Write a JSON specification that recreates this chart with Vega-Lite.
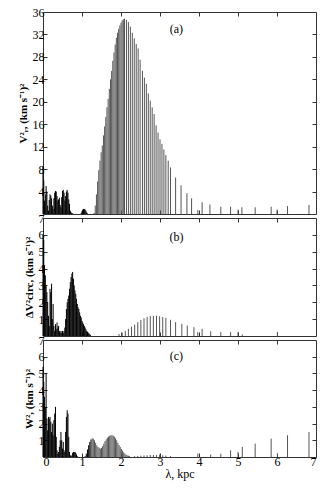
{
  "$schema": "https://vega.github.io/schema/vega-lite/v6.json",
  "padding": {"left": 16, "top": 5, "right": 8, "bottom": 2},
  "background": "white",
  "bounds": "flush",
  "spacing": 4,
  "config": {
    "font": "Liberation Serif",
    "view": {"stroke": "#333", "strokeWidth": 1},
    "axis": {
      "grid": false, "domain": false, "tickColor": "#333", "tickSize": -4,
      "labelColor": "black", "labelFont": "Liberation Serif", "labelFontSize": 12,
      "titleFont": "Liberation Serif", "titleFontSize": 11, "titleFontWeight": "bold",
      "titleColor": "black", "labelPadding": 3, "minExtent": 0, "offset": 0
    }
  },
  "datasets": {
    "a": [
      {"lam":0.00,"v":8.5},{"lam":0.02,"v":6.0},{"lam":0.04,"v":2.4},{"lam":0.06,"v":3.5},{"lam":0.08,"v":5.0},
      {"lam":0.10,"v":4.0},{"lam":0.12,"v":1.5},{"lam":0.14,"v":0.6},{"lam":0.16,"v":2.5},{"lam":0.18,"v":3.5},
      {"lam":0.20,"v":3.3},{"lam":0.22,"v":2.8},{"lam":0.24,"v":1.5},{"lam":0.26,"v":0.9},{"lam":0.28,"v":2.8},
      {"lam":0.30,"v":3.8},{"lam":0.32,"v":4.1},{"lam":0.34,"v":4.0},{"lam":0.36,"v":3.2},{"lam":0.38,"v":2.4},
      {"lam":0.40,"v":2.6},{"lam":0.42,"v":2.9},{"lam":0.44,"v":1.6},{"lam":0.46,"v":1.2},{"lam":0.48,"v":3.0},
      {"lam":0.50,"v":4.1},{"lam":0.52,"v":4.3},{"lam":0.54,"v":3.8},{"lam":0.56,"v":2.4},{"lam":0.58,"v":3.2},
      {"lam":0.60,"v":4.0},{"lam":0.62,"v":4.3},{"lam":0.64,"v":3.8},{"lam":0.66,"v":2.6},{"lam":0.68,"v":1.8},
      {"lam":0.70,"v":0.6},{"lam":0.72,"v":0.3},{"lam":0.74,"v":0.2},{"lam":0.76,"v":0.1},
      {"lam":0.98,"v":0.2},{"lam":1.00,"v":0.5},{"lam":1.02,"v":0.8},{"lam":1.04,"v":0.9},{"lam":1.06,"v":0.9},
      {"lam":1.08,"v":0.8},{"lam":1.10,"v":0.6},{"lam":1.12,"v":0.3},{"lam":1.14,"v":0.1},
      {"lam":1.31,"v":0.2},{"lam":1.34,"v":1.5},{"lam":1.37,"v":3.5},{"lam":1.40,"v":5.8},{"lam":1.43,"v":7.8},
      {"lam":1.46,"v":9.5},{"lam":1.49,"v":11.0},{"lam":1.52,"v":12.2},{"lam":1.55,"v":14.0},{"lam":1.58,"v":15.6},
      {"lam":1.61,"v":17.3},{"lam":1.64,"v":19.0},{"lam":1.67,"v":20.5},{"lam":1.70,"v":22.3},{"lam":1.73,"v":24.0},
      {"lam":1.76,"v":25.5},{"lam":1.79,"v":27.3},{"lam":1.82,"v":28.8},{"lam":1.85,"v":30.2},{"lam":1.88,"v":31.4},
      {"lam":1.91,"v":32.3},{"lam":1.94,"v":33.0},{"lam":1.97,"v":33.6},{"lam":2.00,"v":34.1},{"lam":2.03,"v":34.5},
      {"lam":2.06,"v":34.7},{"lam":2.09,"v":34.8},
      {"lam":2.14,"v":34.6},{"lam":2.19,"v":34.2},{"lam":2.24,"v":33.4},{"lam":2.29,"v":32.3},{"lam":2.34,"v":31.3},
      {"lam":2.39,"v":30.3},{"lam":2.44,"v":29.5},{"lam":2.49,"v":27.5},{"lam":2.55,"v":25.5},{"lam":2.60,"v":24.3},
      {"lam":2.65,"v":23.2},{"lam":2.70,"v":21.5},{"lam":2.75,"v":20.2},{"lam":2.80,"v":19.0},{"lam":2.85,"v":17.8},
      {"lam":2.90,"v":15.8},{"lam":2.95,"v":14.5},{"lam":3.00,"v":13.3},{"lam":3.05,"v":12.5},{"lam":3.10,"v":11.5},
      {"lam":3.15,"v":10.5},{"lam":3.21,"v":9.5},{"lam":3.27,"v":8.3},{"lam":3.40,"v":6.5},{"lam":3.54,"v":5.1},
      {"lam":3.69,"v":3.7},{"lam":3.81,"v":2.8},{"lam":3.97,"v":0.7},{"lam":4.08,"v":2.1},{"lam":4.28,"v":1.7},
      {"lam":4.56,"v":1.3},{"lam":4.81,"v":1.3},{"lam":5.00,"v":0.8},{"lam":5.10,"v":1.2},{"lam":5.44,"v":1.2},
      {"lam":5.85,"v":1.3},{"lam":6.00,"v":0.8},{"lam":6.27,"v":1.4},{"lam":6.82,"v":1.6}
    ],
    "b": [
      {"lam":0.00,"v":6.0},{"lam":0.02,"v":5.7},{"lam":0.04,"v":4.2},{"lam":0.06,"v":3.6},{"lam":0.08,"v":3.0},
      {"lam":0.10,"v":2.6},{"lam":0.12,"v":2.0},{"lam":0.14,"v":1.2},{"lam":0.16,"v":0.6},{"lam":0.18,"v":2.8},
      {"lam":0.20,"v":2.6},{"lam":0.22,"v":3.1},{"lam":0.24,"v":1.0},{"lam":0.26,"v":1.9},{"lam":0.28,"v":0.6},
      {"lam":0.30,"v":0.3},{"lam":0.32,"v":0.7},{"lam":0.34,"v":0.4},{"lam":0.36,"v":0.8},{"lam":0.38,"v":0.5},
      {"lam":0.40,"v":0.6},{"lam":0.42,"v":0.3},{"lam":0.44,"v":0.2},{"lam":0.46,"v":0.3},{"lam":0.48,"v":0.2},
      {"lam":0.50,"v":0.3},{"lam":0.52,"v":0.2},{"lam":0.54,"v":0.3},{"lam":0.56,"v":0.5},{"lam":0.58,"v":1.0},
      {"lam":0.60,"v":1.6},{"lam":0.62,"v":2.0},{"lam":0.64,"v":2.2},{"lam":0.66,"v":2.4},{"lam":0.68,"v":2.8},
      {"lam":0.70,"v":3.2},{"lam":0.72,"v":3.5},{"lam":0.74,"v":3.7},{"lam":0.76,"v":3.8},{"lam":0.78,"v":3.4},
      {"lam":0.80,"v":3.0},{"lam":0.82,"v":2.7},{"lam":0.84,"v":2.5},{"lam":0.86,"v":2.2},{"lam":0.88,"v":1.9},
      {"lam":0.90,"v":1.7},{"lam":0.92,"v":1.6},{"lam":0.94,"v":1.4},{"lam":0.96,"v":1.2},{"lam":0.98,"v":1.1},
      {"lam":1.00,"v":0.9},{"lam":1.02,"v":0.8},{"lam":1.04,"v":0.7},{"lam":1.06,"v":0.6},{"lam":1.08,"v":0.5},
      {"lam":1.10,"v":0.4},{"lam":1.12,"v":0.3},{"lam":1.14,"v":0.25},{"lam":1.16,"v":0.2},{"lam":1.18,"v":0.15},
      {"lam":1.20,"v":0.1},{"lam":1.22,"v":0.05},
      {"lam":1.95,"v":0.12},{"lam":2.03,"v":0.2},{"lam":2.11,"v":0.3},{"lam":2.19,"v":0.42},{"lam":2.27,"v":0.55},
      {"lam":2.35,"v":0.68},{"lam":2.43,"v":0.82},{"lam":2.51,"v":0.95},{"lam":2.59,"v":1.05},{"lam":2.67,"v":1.13},
      {"lam":2.75,"v":1.18},{"lam":2.83,"v":1.2},{"lam":2.91,"v":1.2},{"lam":2.99,"v":1.17},{"lam":3.07,"v":1.12},
      {"lam":3.15,"v":1.08},{"lam":3.27,"v":0.96},{"lam":3.40,"v":0.82},{"lam":3.56,"v":0.72},{"lam":3.70,"v":0.62},
      {"lam":3.87,"v":0.52},{"lam":3.97,"v":0.23},{"lam":4.08,"v":0.42},{"lam":4.30,"v":0.28},{"lam":4.56,"v":0.23},
      {"lam":4.81,"v":0.23},{"lam":5.00,"v":0.23},{"lam":5.11,"v":0.09},{"lam":6.01,"v":0.23}
    ],
    "c": [
      {"lam":0.00,"v":5.4},{"lam":0.02,"v":4.5},{"lam":0.04,"v":3.6},{"lam":0.06,"v":3.0},{"lam":0.08,"v":5.0},
      {"lam":0.10,"v":2.3},{"lam":0.12,"v":1.6},{"lam":0.14,"v":2.4},{"lam":0.16,"v":2.3},{"lam":0.18,"v":2.4},
      {"lam":0.20,"v":2.1},{"lam":0.22,"v":1.5},{"lam":0.24,"v":2.0},{"lam":0.26,"v":1.3},{"lam":0.28,"v":2.2},
      {"lam":0.30,"v":2.6},{"lam":0.32,"v":3.0},{"lam":0.34,"v":1.2},{"lam":0.36,"v":0.4},{"lam":0.38,"v":0.2},
      {"lam":0.40,"v":0.3},{"lam":0.42,"v":0.6},{"lam":0.44,"v":1.0},{"lam":0.46,"v":1.5},{"lam":0.48,"v":1.0},
      {"lam":0.50,"v":0.5},{"lam":0.52,"v":0.9},{"lam":0.54,"v":0.4},{"lam":0.56,"v":0.3},{"lam":0.58,"v":1.5},
      {"lam":0.60,"v":2.4},{"lam":0.62,"v":2.8},{"lam":0.64,"v":2.6},{"lam":0.66,"v":1.2},{"lam":0.68,"v":0.3},
      {"lam":0.70,"v":0.1},{"lam":0.72,"v":0.05},{"lam":0.74,"v":0.1},{"lam":0.76,"v":0.25},{"lam":0.78,"v":0.3},
      {"lam":0.80,"v":0.3},{"lam":0.82,"v":0.3},{"lam":0.84,"v":0.25},{"lam":0.86,"v":0.15},{"lam":0.88,"v":0.05},
      {"lam":1.08,"v":0.05},{"lam":1.11,"v":0.2},{"lam":1.14,"v":0.45},{"lam":1.17,"v":0.7},{"lam":1.20,"v":0.9},
      {"lam":1.23,"v":1.05},{"lam":1.26,"v":1.12},{"lam":1.29,"v":1.1},{"lam":1.32,"v":1.0},{"lam":1.35,"v":0.85},
      {"lam":1.38,"v":0.7},{"lam":1.41,"v":0.6},{"lam":1.44,"v":0.55},{"lam":1.47,"v":0.5},{"lam":1.50,"v":0.55},
      {"lam":1.53,"v":0.65},{"lam":1.56,"v":0.8},{"lam":1.59,"v":0.95},{"lam":1.62,"v":1.05},{"lam":1.65,"v":1.15},
      {"lam":1.68,"v":1.22},{"lam":1.71,"v":1.27},{"lam":1.74,"v":1.3},{"lam":1.77,"v":1.3},{"lam":1.80,"v":1.28},
      {"lam":1.83,"v":1.22},{"lam":1.86,"v":1.12},{"lam":1.89,"v":1.0},{"lam":1.92,"v":0.85},{"lam":1.95,"v":0.72},
      {"lam":1.98,"v":0.6},{"lam":2.01,"v":0.48},{"lam":2.04,"v":0.38},{"lam":2.07,"v":0.28},{"lam":2.10,"v":0.2},
      {"lam":2.13,"v":0.15},{"lam":2.16,"v":0.1},{"lam":2.19,"v":0.08},{"lam":2.22,"v":0.05},
      {"lam":2.35,"v":0.05},{"lam":2.43,"v":0.06},{"lam":2.51,"v":0.08},{"lam":2.59,"v":0.09},{"lam":2.67,"v":0.1},
      {"lam":2.75,"v":0.12},{"lam":2.83,"v":0.12},{"lam":2.91,"v":0.12},{"lam":2.99,"v":0.15},{"lam":3.07,"v":0.1},
      {"lam":3.15,"v":0.08},{"lam":3.27,"v":0.05},
      {"lam":3.97,"v":0.2},{"lam":4.30,"v":0.15},{"lam":4.56,"v":0.2},{"lam":4.81,"v":0.4},{"lam":5.00,"v":0.3},
      {"lam":5.11,"v":0.6},{"lam":5.44,"v":0.8},{"lam":5.85,"v":1.1},{"lam":6.01,"v":0.2},{"lam":6.27,"v":1.3},
      {"lam":6.82,"v":1.5}
    ]
  },
  "vconcat": [
    {
      "width": 273, "height": 202,
      "resolve": {"axis": {"x": "independent", "y": "independent"}},
      "layer": [
        {
          "data": {"name": "a"},
          "mark": {"type": "rule", "strokeWidth": 1},
          "encoding": {
            "x": {"field": "lam", "type": "quantitative", "scale": {"domain": [0, 7], "nice": false},
                  "axis": {"orient": "bottom", "values": [1,2,3,4,5,6], "labels": false, "title": null}},
            "y": {"field": "v", "type": "quantitative", "scale": {"domain": [0, 36], "nice": false},
                  "axis": {"orient": "left", "values": [4,8,12,16,20,24,28,32,36], "title": "V²ᵣ, (km s⁻¹)²"}},
            "y2": {"datum": 0},
            "color": {"condition": {"test": "datum.lam < 1.25", "value": "black"}, "value": "#555"}
          }
        },
        {
          "data": {"values": [{}]},
          "mark": {"type": "text", "text": "(a)", "fontSize": 12, "font": "Liberation Serif", "color": "black"},
          "encoding": {
            "x": {"datum": 3.42, "type": "quantitative", "axis": {"orient": "top", "values": [1,2,3,4,5,6], "labels": false, "title": null}},
            "y": {"datum": 33.0, "type": "quantitative", "axis": {"orient": "right", "values": [4,8,12,16,20,24,28,32], "labels": false, "title": null}}
          }
        }
      ]
    },
    {
      "width": 273, "height": 118,
      "resolve": {"axis": {"x": "independent", "y": "independent"}},
      "layer": [
        {
          "data": {"name": "b"},
          "mark": {"type": "rule", "strokeWidth": 1},
          "encoding": {
            "x": {"field": "lam", "type": "quantitative", "scale": {"domain": [0, 7], "nice": false},
                  "axis": {"orient": "bottom", "values": [1,2,3,4,5,6], "labels": false, "title": null}},
            "y": {"field": "v", "type": "quantitative", "scale": {"domain": [0, 7], "nice": false},
                  "axis": {"orient": "left", "values": [1,2,3,4,5,6,7], "title": "ΔV²circ, (km s⁻¹)²"}},
            "y2": {"datum": 0},
            "color": {"condition": {"test": "datum.lam < 1.25", "value": "black"}, "value": "#555"}
          }
        },
        {
          "data": {"values": [{}]},
          "mark": {"type": "text", "text": "(b)", "fontSize": 12, "font": "Liberation Serif", "color": "black"},
          "encoding": {
            "x": {"datum": 3.42, "type": "quantitative", "axis": {"orient": "top", "values": [1,2,3,4,5,6], "labels": false, "title": null}},
            "y": {"datum": 5.9, "type": "quantitative", "axis": {"orient": "right", "values": [1,2,3,4,5,6], "labels": false, "title": null}}
          }
        }
      ]
    },
    {
      "width": 273, "height": 117,
      "resolve": {"axis": {"x": "independent", "y": "independent"}},
      "layer": [
        {
          "data": {"name": "c"},
          "mark": {"type": "rule", "strokeWidth": 1},
          "encoding": {
            "x": {"field": "lam", "type": "quantitative", "scale": {"domain": [0, 7], "nice": false},
                  "axis": {"orient": "bottom", "values": [0,1,2,3,4,5,6,7], "title": "λ, kpc", "titlePadding": 1, "titleFontWeight": "normal", "titleFontSize": 12}},
            "y": {"field": "v", "type": "quantitative", "scale": {"domain": [0, 7], "nice": false},
                  "axis": {"orient": "left", "values": [1,2,3,4,5,6,7], "title": "W², (km s⁻¹)²"}},
            "y2": {"datum": 0},
            "color": {"condition": {"test": "datum.lam < 1.25", "value": "black"}, "value": "#555"}
          }
        },
        {
          "data": {"values": [{}]},
          "mark": {"type": "text", "text": "(c)", "fontSize": 12, "font": "Liberation Serif", "color": "black"},
          "encoding": {
            "x": {"datum": 3.42, "type": "quantitative", "axis": {"orient": "top", "values": [1,2,3,4,5,6], "labels": false, "title": null}},
            "y": {"datum": 6.05, "type": "quantitative", "axis": {"orient": "right", "values": [1,2,3,4,5,6], "labels": false, "title": null}}
          }
        }
      ]
    }
  ]
}
